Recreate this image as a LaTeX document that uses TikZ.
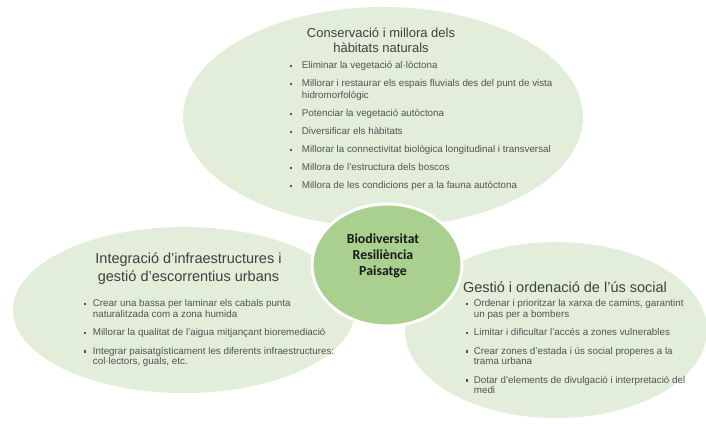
\documentclass[tikz,border=0pt]{standalone}
\usepackage{fontspec}
\setmainfont{Liberation Sans}
\newfontfamily\nucfont{Carlito}
\definecolor{fullaclara}{HTML}{E2EDDA}
\definecolor{fullamitja}{HTML}{A9D08E}
\definecolor{textgris}{HTML}{404040}
\newcommand{\vinyeta}{\rule[0.3ex]{2.2pt}{2.2pt}}
\tikzset{
  titol/.style={align=center, text=textgris, inner sep=0pt, font=\fontsize{14.5}{18}\selectfont},
  llista/.style={anchor=north west, inner sep=0pt, text=textgris!90, font=\fontsize{9.8}{10.5}\selectfont},
}

\begin{document}
\begin{tikzpicture}[x=1pt, y=-1pt]
  \useasboundingbox (0,0) rectangle (706,424);

  % Bombolles
  \fill[fullaclara] (383,117) ellipse [x radius=200, y radius=110];
  \fill[fullaclara] (184,310) ellipse [x radius=171, y radius=83];
  \fill[fullaclara] (556,330) ellipse [x radius=151, y radius=88];

  % Nucli
  \filldraw[fill=fullamitja, draw=white, line width=3pt] (387,265) ellipse [x radius=75, y radius=61];
  \node[font=\nucfont\bfseries\fontsize{13.8}{16}\selectfont, align=center, text=black!90, inner sep=0pt] (nucli) at (383,256)
    {Biodiversitat\\Resiliència\\Paisatge};

  % Habitats
  \node[titol, font=\fontsize{13}{15}\selectfont] (habitats) at (381,40)
    {Conservació i millora dels\\hàbitats naturals};
  \node[llista, font=\fontsize{9.8}{12}\selectfont] (llhabitats) at (290,60) {%
    \begin{tabular}[t]{@{}l@{\hspace{9.5pt}}l@{}}
      \vinyeta & Eliminar la vegetació al·lòctona\\[6pt]
      \vinyeta & Millorar i restaurar els espais fluvials des del punt de vista\\
               & hidromorfològic\\[6pt]
      \vinyeta & Potenciar la vegetació autòctona\\[6pt]
      \vinyeta & Diversificar els hàbitats\\[6pt]
      \vinyeta & Millorar la connectivitat biològica longitudinal i transversal\\[6pt]
      \vinyeta & Millora de l’estructura dels boscos\\[6pt]
      \vinyeta & Millora de les condicions per a la fauna autòctona
    \end{tabular}};

  % Infraestructures
  \node[titol] (infra) at (188.5,269)
    {Integració d’infraestructures i\\gestió d’escorrentius urbans};
  \node[llista] (llinfra) at (83.5,299) {%
    \begin{tabular}[t]{@{}l@{\hspace{7pt}}l@{}}
      \vinyeta & Crear una bassa per laminar els cabals punta\\
               & naturalitzada com a zona humida\\[8pt]
      \vinyeta & Millorar la qualitat de l’aigua mitjançant bioremediació\\[8pt]
      \vinyeta & Integrar paisatgísticament les diferents infraestructures:\\
               & col·lectors, guals, etc.
    \end{tabular}};

  % Us social
  \node[titol] (social) at (565,287) {Gestió i ordenació de l’ús social};
  \node[llista] (llsocial) at (465.5,299) {%
    \begin{tabular}[t]{@{}l@{\hspace{6pt}}l@{}}
      \vinyeta & Ordenar i prioritzar la xarxa de camins, garantint\\
               & un pas per a bombers\\[8pt]
      \vinyeta & Limitar i dificultar l’accés a zones vulnerables\\[8pt]
      \vinyeta & Crear zones d’estada i ús social properes a la\\
               & trama urbana\\[8pt]
      \vinyeta & Dotar d’elements de divulgació i interpretació del\\
               & medi
    \end{tabular}};
\end{tikzpicture}
\end{document}
